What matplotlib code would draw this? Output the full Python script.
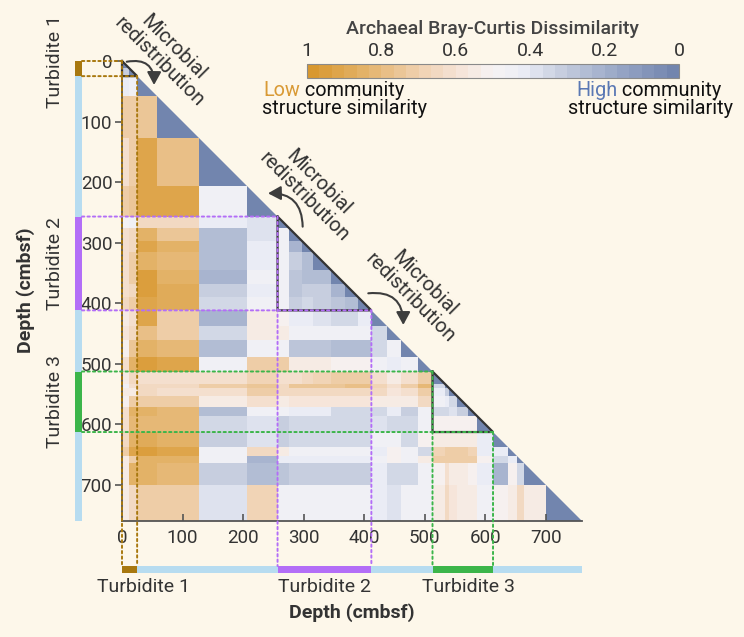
import numpy as np
import matplotlib
matplotlib.use("Agg")
import matplotlib.pyplot as plt
import matplotlib.transforms as mtransforms
from matplotlib.colors import LinearSegmentedColormap, Normalize
from matplotlib.patches import Polygon, FancyArrowPatch, ConnectionPatch
from matplotlib.cm import ScalarMappable

plt.rcParams['font.family'] = ['Roboto', 'DejaVu Sans']

# ---------------- data ----------------
sample_edges = [0, 12, 25, 58, 128, 207, 257, 276, 298, 315, 345, 368, 390, 412,
                437, 461, 489, 513, 533, 541, 553, 571, 587, 613, 638, 652, 664, 700, 760]

dissimilarity_rows = [
    [0],
    [0.3, 0],
    [0.42, 0.45, 0],
    [0.7, 0.72, 0.75, 0],
    [0.6, 0.7, 0.9, 0.78, 0],
    [0.7, 0.75, 0.92, 0.9, 0.45, 0],
    [0.48, 0.45, 0.65, 0.65, 0.43, 0.38, 0],
    [0.62, 0.65, 0.85, 0.75, 0.25, 0.38, 0.45, 0],
    [0.6, 0.65, 0.9, 0.85, 0.25, 0.4, 0.45, 0.22, 0],
    [0.62, 0.7, 0.85, 0.8, 0.25, 0.4, 0.45, 0.3, 0.25, 0],
    [0.6, 0.7, 0.95, 0.85, 0.22, 0.45, 0.45, 0.28, 0.25, 0.25, 0],
    [0.6, 0.65, 0.95, 0.88, 0.3, 0.42, 0.45, 0.28, 0.3, 0.3, 0.2, 0],
    [0.65, 0.7, 0.92, 0.88, 0.35, 0.45, 0.45, 0.32, 0.35, 0.3, 0.28, 0.25, 0],
    [0.55, 0.6, 0.9, 0.7, 0.22, 0.55, 0.52, 0.4, 0.4, 0.38, 0.35, 0.35, 0.4, 0],
    [0.58, 0.65, 0.78, 0.72, 0.35, 0.55, 0.55, 0.45, 0.45, 0.45, 0.45, 0.45, 0.45, 0.35, 0],
    [0.5, 0.75, 0.85, 0.82, 0.25, 0.45, 0.45, 0.28, 0.28, 0.28, 0.25, 0.25, 0.25, 0.35, 0.45, 0],
    [0.6, 0.85, 0.95, 0.9, 0.45, 0.7, 0.72, 0.55, 0.55, 0.55, 0.52, 0.52, 0.52, 0.45, 0.4, 0.45, 0],
    [0.55, 0.65, 0.62, 0.62, 0.6, 0.68, 0.6, 0.62, 0.65, 0.68, 0.7, 0.72, 0.72, 0.62, 0.55, 0.62, 0.72, 0],
    [0.45, 0.6, 0.65, 0.65, 0.7, 0.75, 0.65, 0.75, 0.75, 0.75, 0.75, 0.78, 0.78, 0.68, 0.62, 0.7, 0.8, 0.35, 0],
    [0.55, 0.55, 0.65, 0.62, 0.62, 0.72, 0.65, 0.65, 0.65, 0.65, 0.65, 0.65, 0.65, 0.65, 0.58, 0.62, 0.72, 0.4, 0.3, 0],
    [0.5, 0.7, 0.7, 0.7, 0.55, 0.62, 0.55, 0.58, 0.58, 0.58, 0.58, 0.58, 0.58, 0.55, 0.55, 0.55, 0.65, 0.45, 0.4, 0.35, 0],
    [0.6, 0.85, 0.85, 0.82, 0.25, 0.45, 0.45, 0.4, 0.4, 0.4, 0.35, 0.35, 0.35, 0.35, 0.4, 0.3, 0.45, 0.35, 0.35, 0.38, 0.3, 0],
    [0.62, 0.8, 0.82, 0.82, 0.35, 0.38, 0.32, 0.35, 0.35, 0.35, 0.35, 0.35, 0.35, 0.38, 0.35, 0.35, 0.45, 0.52, 0.5, 0.5, 0.5, 0.5, 0],
    [0.65, 0.85, 0.88, 0.85, 0.33, 0.38, 0.3, 0.35, 0.35, 0.35, 0.35, 0.35, 0.35, 0.45, 0.45, 0.35, 0.5, 0.55, 0.55, 0.55, 0.55, 0.55, 0.4, 0],
    [0.7, 0.92, 0.95, 0.92, 0.45, 0.65, 0.55, 0.45, 0.45, 0.45, 0.45, 0.45, 0.45, 0.42, 0.5, 0.45, 0.35, 0.68, 0.72, 0.7, 0.7, 0.68, 0.42, 0.4, 0],
    [0.55, 0.72, 0.85, 0.85, 0.45, 0.2, 0.4, 0.42, 0.42, 0.42, 0.42, 0.42, 0.42, 0.45, 0.5, 0.45, 0.55, 0.72, 0.72, 0.7, 0.72, 0.7, 0.5, 0.35, 0.4, 0],
    [0.55, 0.85, 0.85, 0.82, 0.32, 0.25, 0.28, 0.32, 0.32, 0.32, 0.32, 0.32, 0.32, 0.42, 0.35, 0.35, 0.45, 0.52, 0.62, 0.55, 0.55, 0.52, 0.42, 0.22, 0.5, 0.35, 0],
    [0.55, 0.65, 0.7, 0.7, 0.38, 0.68, 0.45, 0.45, 0.45, 0.45, 0.45, 0.45, 0.45, 0.42, 0.38, 0.45, 0.45, 0.55, 0.65, 0.58, 0.55, 0.55, 0.45, 0.52, 0.55, 0.65, 0.55, 0],
]

turb_names = ["Turbidite 1", "Turbidite 2", "Turbidite 3"]
turb_top = [0, 257, 513]
turb_bottom = [25, 412, 613]
turb_colors = ["#a8780f", "#b36ef7", "#3cb54a"]
turb_label_left_depth = [0, 335, 563]
turb_label_bottom_depth = [36, 335, 572]
core_bottom = 760

depth_ticks = [0, 100, 200, 300, 400, 500, 600, 700]
cbar_ticks = [1, 0.8, 0.6, 0.4, 0.2, 0]
cbar_ticklabels = ["1", "0.8", "0.6", "0.4", "0.2", "0"]

# ---------------- style ----------------
BG = '#fdf7ea'
TXT = '#333333'
AX = '#555555'
LOW_C = '#d99a35'
HIGH_C = '#5a78b4'
BAR_BG = '#b7dcf0'

anchors = [(0.00, '#7285ae'), (0.15, '#97a6c6'), (0.30, '#c3cbdd'), (0.42, '#eceef6'),
           (0.50, '#f6f3f4'), (0.58, '#f6e6dc'), (0.70, '#f0d2b2'), (0.85, '#e4b46c'),
           (1.00, '#d8982f')]
cmap = LinearSegmentedColormap.from_list('bc', anchors).resampled(30)
norm = Normalize(0, 1)

W, H = 744, 637
fig = plt.figure(figsize=(W / 100, H / 100), dpi=100, facecolor=BG)


def fr(x0, y0, x1, y1):
    return [x0 / W, 1 - y1 / H, (x1 - x0) / W, (y1 - y0) / H]


# ---------------- heatmap ----------------
ax = fig.add_axes(fr(122, 61, 582, 521))
ax.set_facecolor('none')
n = len(sample_edges) - 1
M = np.full((n, n), np.nan)
for i, row in enumerate(dissimilarity_rows):
    M[i, :len(row)] = row
mesh = ax.pcolormesh(sample_edges, sample_edges, np.ma.masked_invalid(M),
                     cmap=cmap, norm=norm, shading='flat', linewidth=0,
                     antialiased=False)
tri = Polygon([(0, 0), (0, core_bottom), (core_bottom, core_bottom)], closed=True,
              transform=ax.transData, facecolor='none', edgecolor='none')
mesh.set_clip_path(tri)
ax.set_xlim(0, core_bottom)
ax.set_ylim(core_bottom, 0)

for s in ['top', 'right']:
    ax.spines[s].set_visible(False)
for s in ['left', 'bottom']:
    ax.spines[s].set_color(AX)
    ax.spines[s].set_linewidth(1.3)
ax.set_xticks(depth_ticks)
ax.set_yticks(depth_ticks)
ax.tick_params(axis='y', direction='out', length=5, width=1.2, color=AX, pad=2,
               labelsize=13.5, labelcolor=TXT)
ax.tick_params(axis='x', direction='in', length=5, width=1.2, color=AX, pad=6,
               labelsize=13.5, labelcolor=TXT)

# turbidite boxes
for s, e in zip(turb_top, turb_bottom):
    ax.plot([s, s, e, s], [s, e, e, s], color='#333333', lw=1.6, clip_on=False,
            zorder=5, solid_joinstyle='miter')

# ---------------- side bars ----------------
axL = fig.add_axes(fr(75, 61, 82, 521))
axL.set_xlim(0, 1)
axL.set_ylim(core_bottom, 0)
axL.bar(0.5, core_bottom, bottom=0, width=1, color=BAR_BG)
for s, e, c in zip(turb_top, turb_bottom, turb_colors):
    axL.bar(0.5, e - s, bottom=s, width=1, color=c)
axL.axis('off')

axB = fig.add_axes(fr(122, 566, 582, 573))
axB.set_xlim(0, core_bottom)
axB.set_ylim(0, 1)
axB.barh(0.5, core_bottom, left=0, height=1, color=BAR_BG)
for s, e, c in zip(turb_top, turb_bottom, turb_colors):
    axB.barh(0.5, e - s, left=s, height=1, color=c)
axB.axis('off')

# dotted guide lines
for s, e, c in zip(turb_top, turb_bottom, turb_colors):
    for d in (s, e):
        con = ConnectionPatch(xyA=(1, d), coordsA='data', axesA=axL,
                              xyB=(d, d), coordsB='data', axesB=ax,
                              color=c, lw=1.4, linestyle=(0, (1.2, 1.6)),
                              shrinkA=0, shrinkB=0, zorder=6)
        fig.add_artist(con)
        con = ConnectionPatch(xyA=(d, d), coordsA='data', axesA=ax,
                              xyB=(d, 1), coordsB='data', axesB=axB,
                              color=c, lw=1.4, linestyle=(0, (1.2, 1.6)),
                              shrinkA=0, shrinkB=0, zorder=6)
        fig.add_artist(con)

# turbidite labels
trL = mtransforms.blended_transform_factory(fig.transFigure, ax.transData)
for name, d in zip(turb_names, turb_label_left_depth):
    fig.text(55 / W, d, name, transform=trL, rotation=90, ha='center', va='center',
             fontsize=14, color=TXT)
trB = mtransforms.blended_transform_factory(ax.transData, fig.transFigure)
for name, d in zip(turb_names, turb_label_bottom_depth):
    fig.text(d, 1 - 587 / H, name, transform=trB, ha='center', va='center',
             fontsize=14, color=TXT)

fig.text(26 / W, 1 - 290 / H, "Depth (cmbsf)", rotation=90, ha='center', va='center',
         fontsize=14, fontweight='bold', color=TXT)
fig.text(352 / W, 1 - 613 / H, "Depth (cmbsf)", ha='center', va='center',
         fontsize=14, fontweight='bold', color=TXT)

# ---------------- annotations ----------------
ann_text = "Microbial\nredistribution"
for (tx, ty), (x0, y0), (x1, y1), rad in [
        ((74.0, -10.0), (7.8, 1.2), (52.9, 39.6), -0.6),
        ((313.4, 212.5), (298.5, 273.7), (241.2, 218.6), 0.5),
        ((488.2, 380.0), (406.9, 383.8), (464.7, 436.1), -0.55)]:
    ax.text(tx, ty, ann_text, rotation=-45, rotation_mode='anchor', ha='center',
            va='center', multialignment='center', fontsize=14.5, color=TXT,
            linespacing=1.1, clip_on=False, zorder=7)
    arr = FancyArrowPatch((x0, y0), (x1, y1), connectionstyle=f"arc3,rad={rad}",
                          arrowstyle='-|>,head_length=0.55,head_width=0.3',
                          mutation_scale=14, color='#3d3d3d', lw=1.5,
                          transform=ax.transData, clip_on=False, zorder=7,
                          shrinkA=0, shrinkB=0)
    ax.add_patch(arr)

# ---------------- colorbar ----------------
cax = fig.add_axes(fr(307, 64, 679, 78))
cb = fig.colorbar(ScalarMappable(norm=norm, cmap=cmap), cax=cax, orientation='horizontal')
cax.invert_xaxis()
cb.set_ticks(cbar_ticks)
cb.set_ticklabels(cbar_ticklabels)
cax.xaxis.set_ticks_position('top')
cax.tick_params(length=0, pad=3, labelsize=14, labelcolor=TXT)
cb.outline.set_edgecolor('#8a8a8a')
cb.outline.set_linewidth(0.8)

fig.text(492 / W, 1 - 29 / H, "Archaeal Bray-Curtis Dissimilarity", ha='center',
         va='center', fontsize=14, fontweight='medium', color='#444444')

LBL = 14.3
t = fig.text(263 / W, 1 - 90 / H, "Low", ha='left', va='center', fontsize=LBL, color=LOW_C)
fig.add_artist(plt.Annotation(" community", xy=(1, 0), xycoords=t, ha='left', va='bottom',
                              fontsize=LBL, color='#111111'))
fig.text(262 / W, 1 - 108 / H, "structure similarity", ha='left', va='center',
         fontsize=LBL, color='#111111')
t = fig.text(576 / W, 1 - 90 / H, "High", ha='left', va='center', fontsize=LBL, color=HIGH_C)
fig.add_artist(plt.Annotation(" community", xy=(1, 0), xycoords=t, ha='left', va='bottom',
                              fontsize=LBL, color='#111111'))
fig.text(568 / W, 1 - 108 / H, "structure similarity", ha='left', va='center',
         fontsize=LBL, color='#111111')

fig.savefig("out.png", dpi=100, facecolor=BG)
